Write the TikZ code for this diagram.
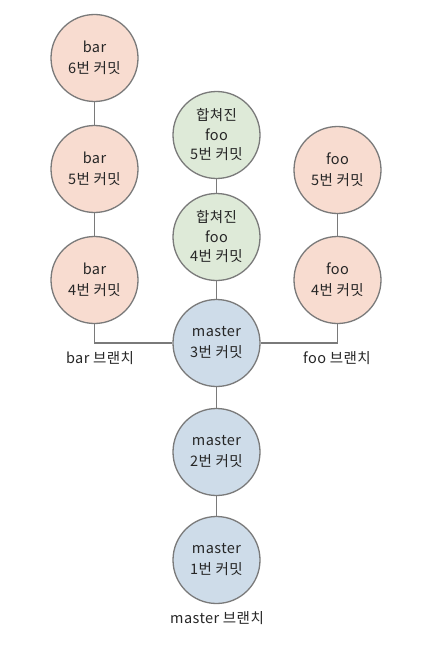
\documentclass[tikz,border=0pt]{standalone}
\usepackage{fontspec}
\setmainfont{Noto Sans CJK KR}[LetterSpace=3]
\definecolor{pinkfill}{HTML}{F8DCD0}
\definecolor{greenfill}{HTML}{DEEAD8}
\definecolor{bluefill}{HTML}{CEDCE9}
\definecolor{edgegray}{HTML}{7A7A7A}
\definecolor{textdark}{HTML}{262626}
\tikzset{
  commit/.style={circle, draw=edgegray, line width=1.3pt, minimum size=87pt, inner sep=0pt,
    align=center, text=textdark, font=\fontsize{14.5}{21}\selectfont},
  commit3/.style={commit, font=\fontsize{14.5}{19.5}\selectfont},
  barc/.style={commit, fill=pinkfill},
  fooc/.style={commit, fill=pinkfill},
  mergec/.style={commit3, fill=greenfill},
  masterc/.style={commit, fill=bluefill},
  link/.style={draw=edgegray, line width=1.3pt},
  branchlabel/.style={text=textdark, font=\fontsize{14.5}{16}\selectfont, inner sep=0pt}
}
\begin{document}
\begin{tikzpicture}[x=1pt,y=-1pt]
\useasboundingbox (0,0) rectangle (425,666);
\fill[white] (0,0) rectangle (425,666);
% bar column
\node[barc] (bar6) at (94.5,58) {bar\\6번 커밋};
\node[barc] (bar5) at (94.5,169) {bar\\5번 커밋};
\node[barc] (bar4) at (94.5,280) {bar\\4번 커밋};
% merged column
\node[mergec] (mf5) at (216.5,135) {합쳐진\\foo\\5번 커밋};
\node[mergec] (mf4) at (216.5,237) {합쳐진\\foo\\4번 커밋};
% master column
\node[masterc] (m3) at (216.5,343) {master\\3번 커밋};
\node[masterc] (m2) at (216.5,452) {master\\2번 커밋};
\node[masterc] (m1) at (216.5,560) {master\\1번 커밋};
% foo column
\node[fooc] (foo5) at (337.5,170) {foo\\5번 커밋};
\node[fooc] (foo4) at (337.5,280) {foo\\4번 커밋};
% connectors
\draw[link] (bar6) -- (bar5);
\draw[link] (bar5) -- (bar4);
\draw[link] (mf5) -- (mf4);
\draw[link] (mf4) -- (m3);
\draw[link] (m3) -- (m2);
\draw[link] (m2) -- (m1);
\draw[link] (foo5) -- (foo4);
\draw[link] (bar4.south) |- (m3.west);
\draw[link] (foo4.south) |- (m3.east);
% labels
\node[branchlabel] (barlbl) at (100,358) {bar 브랜치};
\node[branchlabel] (foolbl) at (337,358) {foo 브랜치};
\node[branchlabel] (masterlbl) at (217,618) {master 브랜치};
\end{tikzpicture}
\end{document}
